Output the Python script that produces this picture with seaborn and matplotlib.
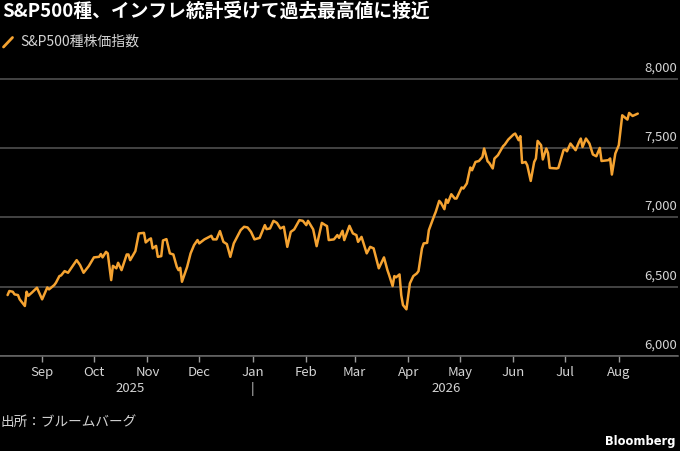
import pandas as pd
import seaborn as sns
import matplotlib
matplotlib.use("Agg")
import matplotlib.pyplot as plt
import matplotlib.dates as mdates
import matplotlib.transforms as mtransforms
from matplotlib.lines import Line2D


# Chart values
dates = [
    "2025-08-12", "2025-08-13", "2025-08-15", "2025-08-16", "2025-08-18", "2025-08-19", "2025-08-22",
    "2025-08-23", "2025-08-24", "2025-08-26", "2025-08-29",
    "2025-09-01", "2025-09-04", "2025-09-05", "2025-09-08", "2025-09-09", "2025-09-11", "2025-09-12",
    "2025-09-14", "2025-09-16", "2025-09-21", "2025-09-23", "2025-09-25", "2025-09-28",
    "2025-10-01", "2025-10-04", "2025-10-05", "2025-10-06", "2025-10-08", "2025-10-09", "2025-10-11",
    "2025-10-12", "2025-10-14", "2025-10-15", "2025-10-17", "2025-10-20", "2025-10-21", "2025-10-22",
    "2025-10-25", "2025-10-27", "2025-10-30", "2025-10-31",
    "2025-11-02", "2025-11-03", "2025-11-04", "2025-11-06", "2025-11-07", "2025-11-09", "2025-11-10",
    "2025-11-12", "2025-11-14", "2025-11-16", "2025-11-18", "2025-11-19", "2025-11-20", "2025-11-21",
    "2025-11-24", "2025-11-26", "2025-11-28", "2025-11-30",
    "2025-12-01", "2025-12-04", "2025-12-08", "2025-12-09", "2025-12-11", "2025-12-13", "2025-12-15",
    "2025-12-17", "2025-12-19", "2025-12-21", "2025-12-25", "2025-12-27", "2025-12-29", "2025-12-31",
    "2026-01-02", "2026-01-05", "2026-01-08", "2026-01-09", "2026-01-11", "2026-01-13", "2026-01-15",
    "2026-01-17", "2026-01-19", "2026-01-21", "2026-01-23", "2026-01-25", "2026-01-28", "2026-01-30",
    "2026-02-01", "2026-02-02", "2026-02-05", "2026-02-07", "2026-02-10", "2026-02-12", "2026-02-13",
    "2026-02-14", "2026-02-17", "2026-02-19", "2026-02-20", "2026-02-22", "2026-02-23", "2026-02-26",
    "2026-02-28",
    "2026-03-02", "2026-03-03", "2026-03-05", "2026-03-08", "2026-03-10", "2026-03-12", "2026-03-15",
    "2026-03-18", "2026-03-20", "2026-03-21", "2026-03-23", "2026-03-24", "2026-03-25", "2026-03-27",
    "2026-03-28", "2026-03-29", "2026-03-31",
    "2026-04-02", "2026-04-04", "2026-04-06", "2026-04-07", "2026-04-09", "2026-04-10", "2026-04-12",
    "2026-04-13", "2026-04-16", "2026-04-17", "2026-04-19", "2026-04-20", "2026-04-22", "2026-04-23",
    "2026-04-24", "2026-04-26", "2026-04-28", "2026-04-29",
    "2026-05-02", "2026-05-03", "2026-05-05", "2026-05-07", "2026-05-08", "2026-05-10", "2026-05-12",
    "2026-05-14", "2026-05-15", "2026-05-17", "2026-05-18", "2026-05-20", "2026-05-21", "2026-05-23",
    "2026-05-26", "2026-05-27", "2026-05-29",
    "2026-06-01", "2026-06-02", "2026-06-04", "2026-06-05", "2026-06-06", "2026-06-08", "2026-06-09",
    "2026-06-11", "2026-06-13", "2026-06-14", "2026-06-15", "2026-06-17", "2026-06-18", "2026-06-20",
    "2026-06-21", "2026-06-22", "2026-06-26", "2026-06-27", "2026-06-30",
    "2026-07-01", "2026-07-02", "2026-07-04", "2026-07-07", "2026-07-09", "2026-07-10", "2026-07-11",
    "2026-07-13", "2026-07-15", "2026-07-17", "2026-07-19", "2026-07-21", "2026-07-22", "2026-07-26",
    "2026-07-27", "2026-07-28", "2026-07-30",
    "2026-08-01", "2026-08-03", "2026-08-06", "2026-08-07", "2026-08-09", "2026-08-12",
]

closes = [
    6440, 6469, 6464, 6445, 6440, 6409, 6361, 6464, 6435, 6457, 6493,
    6409, 6495, 6481, 6512, 6529, 6577, 6582, 6613, 6601, 6692, 6656, 6601, 6649,
    6712, 6716, 6736, 6712, 6752, 6741, 6548, 6651, 6633, 6673, 6620, 6733, 6733, 6692,
    6757, 6885, 6889, 6820,
    6842, 6849, 6777, 6795, 6716, 6721, 6834, 6844, 6741, 6733, 6644, 6620, 6637, 6536,
    6644, 6741, 6801, 6837,
    6813, 6842, 6868, 6842, 6842, 6902, 6824, 6808, 6716, 6813, 6909, 6933, 6928, 6896,
    6842, 6853, 6945, 6916, 6921, 6976, 6961, 6921, 6933, 6788, 6896, 6914, 6981, 6976,
    6945, 6976, 6914, 6793, 6961, 6945, 6938, 6837, 6842, 6873, 6853, 6904, 6837, 6940, 6885,
    6873, 6824, 6860, 6741, 6788, 6777, 6633, 6712, 6620, 6584, 6505, 6577, 6568, 6589,
    6440, 6368, 6337,
    6524, 6577, 6596, 6613, 6777, 6813, 6817, 6909, 7010, 7041, 7120, 7106, 7060, 7130,
    7106, 7168, 7137, 7137,
    7217, 7209, 7246, 7361, 7341, 7401, 7408, 7437, 7498, 7406, 7394, 7354, 7426, 7450,
    7515, 7527, 7563,
    7599, 7606, 7558, 7587, 7394, 7401, 7377, 7264, 7401, 7426, 7553, 7522, 7419, 7498,
    7466, 7358, 7354, 7358, 7486,
    7491, 7478, 7534, 7486, 7546, 7570, 7509, 7570, 7534, 7455, 7442, 7502, 7408, 7414,
    7426, 7310, 7462,
    7522, 7738, 7707, 7755, 7733, 7750,
]

y_ticks = [6000, 6500, 7000, 7500, 8000]
month_ticks = pd.date_range("2025-09-01", "2026-08-01", freq="MS")
year_labels = ["2025", "2026"]
year_label_dates = ["2025-10-22", "2026-04-23"]

title = "S&P500種、インフレ統計受けて過去最高値に接近"
series_name = "S&P500種株価指数"
source = "出所：ブルームバーグ"

LINE = "#f5a331"
TEXT = "#d4d4d4"
GRID = "#555555"

df = pd.DataFrame({"date": pd.to_datetime(dates), "close": closes})

sns.set_theme(style="dark", rc={
    "figure.facecolor": "black",
    "axes.facecolor": "black",
    "savefig.facecolor": "black",
    "text.color": TEXT,
    "xtick.color": TEXT,
    "ytick.color": TEXT,
})
plt.rcParams["font.family"] = ["Noto Sans CJK JP", "DejaVu Sans"]
num_font = ["Liberation Sans Narrow", "Noto Sans CJK JP", "DejaVu Sans"]

fig = plt.figure(figsize=(6.8, 4.51), dpi=100)
W, H = 680, 451
ax = fig.add_axes([0, 95 / H, 678 / W, 281 / H])

sns.lineplot(data=df, x="date", y="close", color=LINE, linewidth=1.8, ax=ax)

sep1 = pd.Timestamp("2025-09-01")
ax.set_xlim(sep1 - pd.Timedelta(days=24.4), sep1 + pd.Timedelta(days=368.3))
ax.set_ylim(6000, 8000 + 4 * 7.212)

# horizontal grid
ax.set_yticks(y_ticks)
ax.yaxis.grid(True, color=GRID, linewidth=1.1)
ax.xaxis.grid(False)
ax.tick_params(axis="y", left=False, labelleft=False)
for s in ["top", "left", "right"]:
    ax.spines[s].set_visible(False)
ax.spines["bottom"].set_color("#6a6a6a")
ax.spines["bottom"].set_linewidth(1.1)

# y labels at right, above their gridlines
for v in y_ticks:
    ax.annotate(f"{v:,}", xy=(1.0, v), xycoords=ax.get_yaxis_transform(),
                xytext=(-1, 11), textcoords="offset pixels",
                ha="right", va="center", fontsize=9.5, color=TEXT, family=num_font)

# month ticks
ax.set_xticks(month_ticks)
ax.xaxis.set_major_formatter(mdates.DateFormatter("%b"))
ax.tick_params(axis="x", bottom=True, length=4.5, width=1, color="#9a9a9a",
               pad=3, labelsize=9.5, labelcolor=TEXT)
for lab in ax.get_xticklabels():
    lab.set_family(num_font)
ax.set_xlabel("")
ax.set_ylabel("")

# year labels under months
trans = mtransforms.blended_transform_factory(ax.transData, ax.transAxes)
for lbl, d in zip(year_labels, year_label_dates):
    ax.text(mdates.date2num(pd.Timestamp(d)), -33 / 281, lbl, transform=trans,
            ha="center", va="center", fontsize=9.5, color=TEXT, family=num_font)
ax.text(mdates.date2num(pd.Timestamp("2026-01-01")), -33 / 281, "|", transform=trans,
        ha="center", va="center", fontsize=9.5, color=TEXT, family=num_font)

# title, legend, source
fig.text(2 / W, 1 - 11.7 / H, title, ha="left", va="center",
         fontsize=13.5, fontweight="bold", color="white")
fig.add_artist(Line2D([3.5 / W, 12.5 / W], [1 - 47 / H, 1 - 37.5 / H],
                      transform=fig.transFigure, color=LINE, linewidth=2))
fig.text(20.5 / W, 1 - 42 / H, series_name, ha="left", va="center",
         fontsize=10, color=TEXT)
fig.text(0, 1 - 422 / H, source, ha="left", va="center", fontsize=9.8, color=TEXT)
fig.text(675 / W, 1 - 441 / H, "Bloomberg", ha="right", va="center",
         fontsize=8.3, fontweight="bold", color="white", family=["DejaVu Sans"])

fig.savefig("out.png", dpi=100, facecolor="black")
